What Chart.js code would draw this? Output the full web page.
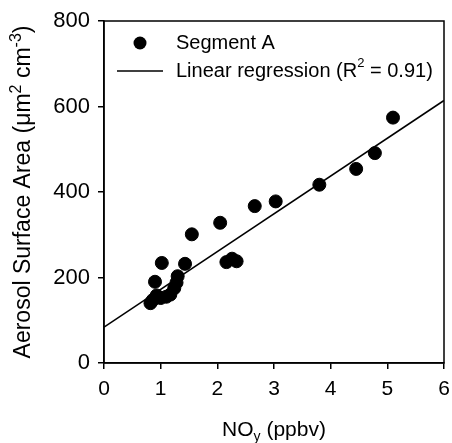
<!DOCTYPE html>
<html>
<head>
<meta charset="utf-8">
<script src="https://cdn.jsdelivr.net/npm/chart.js@4.4.1/dist/chart.umd.min.js"></script>
<style>
  html, body { margin: 0; padding: 0; background: #fff; }
  #wrap { width: 452px; height: 443px; }
</style>
</head>
<body>
<div id="wrap"><canvas id="chart" width="452" height="443"></canvas></div>
<script>
  const noyValues = [0.82, 0.86, 0.90, 0.93, 1.00, 1.02, 1.10, 1.17, 1.24, 1.28, 1.30, 1.43, 1.55,
    2.05, 2.16, 2.26, 2.34, 2.66, 3.03, 3.80, 4.45, 4.78, 5.10];
  const surfaceValues = [140, 147, 190, 158, 152, 234, 155, 160, 175, 188, 203, 232, 301,
    328, 236, 244, 238, 367, 378, 417, 454, 491, 574];
  const regressionX = [0, 6];
  const regressionY = [84, 614];
  const xTicks = [0, 1, 2, 3, 4, 5, 6];
  const yTicks = [0, 200, 400, 600, 800];

  const FONT = "'Liberation Sans', Arial, Helvetica, sans-serif";

  // draws text pieces with sub/superscripts, centred on x
  function drawRich(ctx, parts, x, y, size) {
    const small = Math.round(size * 0.68);
    let total = 0;
    parts.forEach(function (p) {
      ctx.font = (p.sub || p.sup ? small : size) + "px " + FONT;
      p.w = ctx.measureText(p.t).width;
      total += p.w;
    });
    let cx = x - total / 2;
    parts.forEach(function (p) {
      ctx.font = (p.sub || p.sup ? small : size) + "px " + FONT;
      let dy = 0;
      if (p.sup) dy = -size * 0.4;
      if (p.sub) dy = size * 0.25;
      ctx.fillText(p.t, cx, y + dy);
      cx += p.w;
    });
  }

  const decorPlugin = {
    id: "decor",
    afterDraw(chart) {
      const ctx = chart.ctx;
      const a = chart.chartArea;
      ctx.save();
      ctx.strokeStyle = "#000";
      ctx.lineWidth = 1.5;
      ctx.strokeRect(a.left, a.top, a.right - a.left, a.bottom - a.top);

      ctx.fillStyle = "#000";
      ctx.textAlign = "left";
      ctx.textBaseline = "alphabetic";

      // x title
      drawRich(ctx, [{ t: "NO" }, { t: "y", sub: true }, { t: " (ppbv)" }], (a.left + a.right) / 2, 436, 21);

      // y title
      ctx.save();
      ctx.translate(30, (a.top + a.bottom) / 2);
      ctx.rotate(-Math.PI / 2);
      drawRich(ctx, [{ t: "Aerosol Surface Area (\u03BCm" }, { t: "2", sup: true }, { t: " cm" },
        { t: "-3", sup: true }, { t: ")" }], 0, 0, 23);
      ctx.restore();

      // legend
      const pts = chart.data.datasets[0];
      const reg = chart.data.datasets[1];
      ctx.beginPath();
      ctx.arc(140, 43, 6.5, 0, Math.PI * 2);
      ctx.fillStyle = pts.backgroundColor;
      ctx.fill();
      ctx.beginPath();
      ctx.moveTo(117, 71);
      ctx.lineTo(163, 71);
      ctx.strokeStyle = reg.borderColor;
      ctx.lineWidth = reg.borderWidth;
      ctx.stroke();
      ctx.fillStyle = "#000";
      ctx.textBaseline = "middle";
      ctx.font = "20px " + FONT;
      ctx.fillText(pts.label, 176, 43);
      let tx = 176;
      const before = "Linear regression (R";
      ctx.fillText(before, tx, 71);
      tx += ctx.measureText(before).width;
      ctx.font = "13px " + FONT;
      ctx.fillText("2", tx, 63);
      tx += ctx.measureText("2").width;
      ctx.font = "20px " + FONT;
      ctx.fillText(" = 0.91)", tx, 71);
      ctx.restore();
    }
  };

  new Chart(document.getElementById("chart").getContext("2d"), {
    type: "scatter",
    data: {
      datasets: [
        {
          label: "Segment A",
          data: noyValues.map(function (x, i) { return { x: x, y: surfaceValues[i] }; }),
          backgroundColor: "#000",
          borderColor: "#000",
          pointRadius: 6.5,
          pointHoverRadius: 6.5,
          showLine: false
        },
        {
          label: "Linear regression (R² = 0.91)",
          data: regressionX.map(function (x, i) { return { x: x, y: regressionY[i] }; }),
          borderColor: "#000",
          backgroundColor: "#000",
          borderWidth: 1.6,
          pointRadius: 0,
          showLine: true
        }
      ]
    },
    options: {
      responsive: false,
      animation: false,
      devicePixelRatio: 1,
      layout: { padding: { top: 21, right: 8, left: 0, bottom: 0 } },
      plugins: { legend: { display: false }, tooltip: { enabled: false } },
      scales: {
        x: {
          type: "linear",
          min: xTicks[0],
          max: xTicks[xTicks.length - 1],
          afterBuildTicks: function (axis) { axis.ticks = xTicks.map(function (v) { return { value: v }; }); },
          afterFit: function (axis) { axis.height = 80; axis.paddingRight = 0; axis.paddingLeft = 0; },
          border: { display: true, color: "#000", width: 1.5 },
          grid: { drawOnChartArea: false, drawTicks: true, tickLength: 6, color: "#000", lineWidth: 1.5 },
          ticks: { color: "#000", padding: 8, font: { family: FONT, size: 21 } }
        },
        y: {
          type: "linear",
          min: yTicks[0],
          max: yTicks[yTicks.length - 1],
          afterBuildTicks: function (axis) { axis.ticks = yTicks.map(function (v) { return { value: v }; }); },
          afterFit: function (axis) { axis.width = 104; axis.paddingTop = 0; axis.paddingBottom = 0; },
          border: { display: true, color: "#000", width: 1.5 },
          grid: { drawOnChartArea: false, drawTicks: true, tickLength: 6, color: "#000", lineWidth: 1.5 },
          ticks: { color: "#000", padding: 8, font: { family: FONT, size: 22 } }
        }
      }
    },
    plugins: [decorPlugin]
  });
</script>
</body>
</html>
